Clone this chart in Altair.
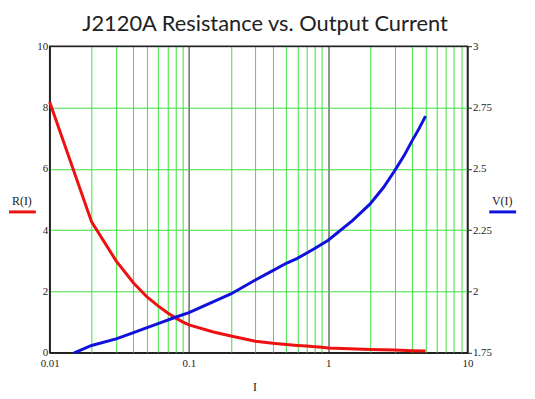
import altair as alt
import pandas as pd

# ---- data ----
I_R = [0.01, 0.02, 0.03, 0.04, 0.05, 0.06, 0.07, 0.08, 0.09, 0.1, 0.15,
       0.2, 0.3, 0.4, 0.5, 0.6, 0.7, 0.8, 0.9, 1, 2, 3, 4, 5]
R_vals = [8.18, 4.27, 3.0, 2.28, 1.82, 1.53, 1.31, 1.14, 1.01, 0.91, 0.68,
          0.55, 0.38, 0.31, 0.27, 0.24, 0.22, 0.20, 0.18, 0.16, 0.11, 0.09, 0.07, 0.06]

I_V = [0.015, 0.02, 0.03, 0.04, 0.05, 0.06, 0.08, 0.1, 0.2, 0.3, 0.4, 0.5,
       0.6, 0.8, 1, 1.5, 2, 2.5, 3, 3.5, 4, 4.5, 5]
V_vals = [1.75, 1.78, 1.807, 1.832, 1.853, 1.869, 1.895, 1.914, 1.99, 2.047, 2.085, 2.115,
          2.135, 2.175, 2.209, 2.29, 2.357, 2.425, 2.492, 2.553, 2.614, 2.665, 2.715]

x_ticks = [m * d for d in (0.01, 0.1, 1) for m in range(1, 10)] + [10]
x_ticks = [round(v, 4) for v in x_ticks]
decade_labels = [0.01, 0.1, 1, 10]
y_left_ticks = [0, 2, 4, 6, 8, 10]
y_right_ticks = [1.75, 2, 2.25, 2.5, 2.75, 3]

title_text = "J2120A Resistance vs. Output Current"
x_title = "I"
left_label = "R(I)"
right_label = "V(I)"

GREEN = "#3ee03e"
DARK = "#222222"
RED = "#ee1111"
BLUE = "#1111dd"
SERIF = "Liberation Serif"

red_df = pd.DataFrame({"I": I_R, "R": R_vals})
blue_df = pd.DataFrame({"I": I_V, "V": V_vals})

xscale = alt.Scale(type="log", domain=[0.01, 10], nice=False)

x_axis = alt.Axis(
    values=x_ticks,
    grid=True,
    gridColor={"condition": {"test": "indexof([0.01, 0.1, 1, 10], datum.value) >= 0",
                             "value": DARK},
               "value": GREEN},
    gridWidth=1,
    ticks=False,
    domain=True,
    domainColor=DARK,
    labelExpr="indexof([0.01, 0.1, 1, 10], datum.value) >= 0 ? format(datum.value, '~g') : ''",
    labelFlush=False,
    labelOverlap=False,
    labelFont=SERIF,
    labelFontSize=11,
    labelColor=DARK,
    labelPadding=5,
    title=None,
)

red = alt.Chart(red_df).mark_line(color=RED, strokeWidth=3).encode(
    x=alt.X("I:Q", scale=xscale, axis=x_axis),
    y=alt.Y("R:Q", scale=alt.Scale(domain=[0, 10], nice=False),
            axis=alt.Axis(values=y_left_ticks, grid=True,
                          gridColor={"condition": {"test": "datum.value == 0 || datum.value == 10",
                                                   "value": DARK},
                                     "value": GREEN},
                          ticks=False, domain=True, domainColor=DARK, title=None,
                          labelFont=SERIF, labelFontSize=11, labelColor=DARK,
                          labelPadding=2)),
)

blue = alt.Chart(blue_df).mark_line(color=BLUE, strokeWidth=3).encode(
    x=alt.X("I:Q", scale=xscale, axis=x_axis),
    y=alt.Y("V:Q", scale=alt.Scale(domain=[1.75, 3], nice=False),
            axis=alt.Axis(orient="right", values=y_right_ticks, grid=False,
                          ticks=True, tickSize=4, tickColor=DARK, domain=True,
                          domainColor=DARK,
                          title=None, labelFont=SERIF, labelFontSize=11,
                          labelColor=DARK, labelPadding=1,
                          labelExpr="format(datum.value, '~g')")),
)

txt_df = pd.DataFrame({"t": [0]})
title = alt.Chart(txt_df).mark_text(
    text=title_text, font="Lato", fontSize=22, color="#222222", align="center",
    baseline="middle").encode(x=alt.value(217), y=alt.value(-22))
xlab = alt.Chart(txt_df).mark_text(
    text=x_title, font=SERIF, fontSize=12, color=DARK, align="center",
    baseline="middle").encode(x=alt.value(207), y=alt.value(343))
rlab = alt.Chart(txt_df).mark_text(
    text=left_label, font=SERIF, fontSize=12, color=DARK, align="center",
    baseline="middle").encode(x=alt.value(-28), y=alt.value(156))
vlab = alt.Chart(txt_df).mark_text(
    text=right_label, font=SERIF, fontSize=12, color=DARK, align="center",
    baseline="middle").encode(x=alt.value(456), y=alt.value(156))
rline = alt.Chart(txt_df).mark_rule(color=RED, strokeWidth=3).encode(
    x=alt.value(-41), x2=alt.value(-14), y=alt.value(167))
vline = alt.Chart(txt_df).mark_rule(color=BLUE, strokeWidth=3).encode(
    x=alt.value(443), x2=alt.value(470), y=alt.value(167))

chart = alt.layer(red, blue, title, xlab, rlab, vlab, rline, vline).resolve_scale(
    y="independent"
).properties(
    width=421, height=309,
    autosize=alt.AutoSizeParams(type="none"),
    padding={"left": 42, "top": 37, "right": 60, "bottom": 40},
).configure(background="white").configure_view(stroke=DARK, strokeWidth=1.5)

chart.save("out.html", embed_options={"renderer": "svg", "actions": False})
